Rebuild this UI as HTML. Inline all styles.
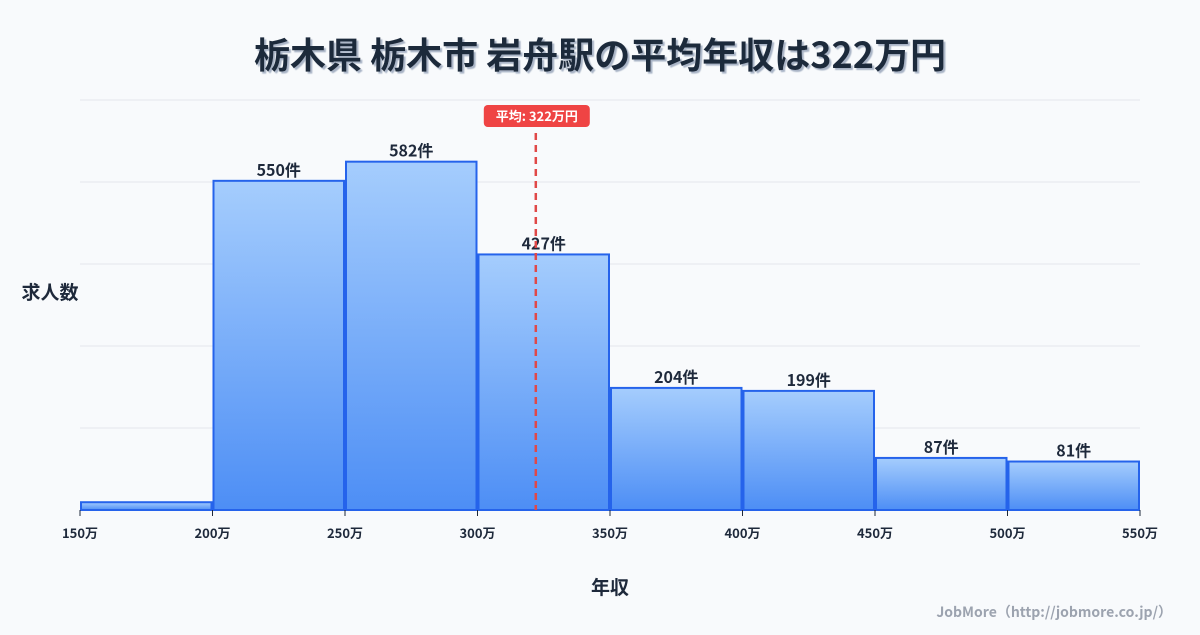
<!DOCTYPE html>
<html><head><meta charset="utf-8">
<style>
body{margin:0;width:1200px;height:630px;background:#f8fafc;font-family:"Noto Sans CJK JP",sans-serif;overflow:hidden}
svg text{font-family:"Noto Sans CJK JP","Liberation Sans",sans-serif}
</style></head><body>
<svg id="chart" width="1200" height="630" xmlns="http://www.w3.org/2000/svg">
<defs>
<linearGradient id="bg" x1="0" y1="0" x2="0" y2="1"><stop offset="0" stop-color="#a5cdfd"/><stop offset="1" stop-color="#4d8ef5"/></linearGradient>
<filter id="sh"><feDropShadow dx="2" dy="2" stdDeviation="0.5" flood-color="#94a3b8" flood-opacity="0.8"/></filter>
</defs>
<text x="600" y="68" text-anchor="middle" font-size="36" font-weight="bold" fill="#1e293b" filter="url(#sh)">栃木県 栃木市 岩舟駅の平均年収は322万円</text>
<g id="grid"></g>
<g id="bars"></g>
<g id="axis"></g>
<text x="50" y="299" text-anchor="middle" font-size="19" font-weight="bold" fill="#1e293b">求人数</text>
<text x="610" y="594" text-anchor="middle" font-size="19" font-weight="bold" fill="#1e293b">年収</text>
<text x="1172" y="617" text-anchor="end" font-size="14" font-weight="bold" fill="#9ca3af">JobMore（http://jobmore.co.jp/）</text>
</svg>
<script>
const binStarts=[150,200,250,300,350,400,450,500];
const counts=[13,550,582,427,204,199,87,81];
const tickLabels=[150,200,250,300,350,400,450,500,550];
const average=322;
const ns="http://www.w3.org/2000/svg";
const X0=80,X1=1140,Y0=510,Y1=100;
const x=v=>X0+(v-150)*(X1-X0)/400;
const y=v=>Y0-v*0.5985;
function mk(t,a,p){const e=document.createElementNS(ns,t);for(const k in a)e.setAttribute(k,a[k]);p.appendChild(e);return e;}
const grid=document.getElementById('grid'),bars=document.getElementById('bars'),axis=document.getElementById('axis');
for(let i=0;i<=5;i++){const gy=Y1+i*82;const l=mk('line',{x1:X0,x2:X1,y1:gy,y2:gy,stroke:'#e5e7eb','stroke-width':1},grid);

}
binStarts.forEach((b,i)=>{
const r=mk('rect',{x:x(b)+1,y:y(counts[i]),width:x(b+50)-x(b)-2,height:Y0-y(counts[i]),fill:'url(#bg)',stroke:'#2563eb','stroke-width':2},bars);


if(counts[i]>30){const t=mk('text',{x:(x(b)+x(b+50))/2,y:y(counts[i])-5,'text-anchor':'middle','font-size':16,'font-weight':'bold',fill:'#1e293b'},bars);t.textContent=counts[i]+'件';

}
});
tickLabels.forEach(v=>{
const tk=mk('line',{x1:x(v),x2:x(v),y1:Y0,y2:Y0+6,stroke:'#1e293b','stroke-width':1},axis);


const t=mk('text',{x:x(v),y:Y0+28,'text-anchor':'middle','font-size':13,'font-weight':'bold',fill:'#1e293b'},axis);t.textContent=v+'万';


});
const ax=x(average);
const al=mk('line',{x1:ax,x2:ax,y1:133,y2:Y0,stroke:'#e04848','stroke-width':2.5,'stroke-dasharray':'7,5'},axis);


const bx=mk('rect',{x:ax-52,y:105,width:106,height:22,rx:4,fill:'#ef4444'},axis);


const at=mk('text',{x:ax+1,y:121,'text-anchor':'middle','font-size':13,'font-weight':'bold',fill:'#fff'},axis);at.textContent='平均: '+average+'万円';


</script>
</body></html>
